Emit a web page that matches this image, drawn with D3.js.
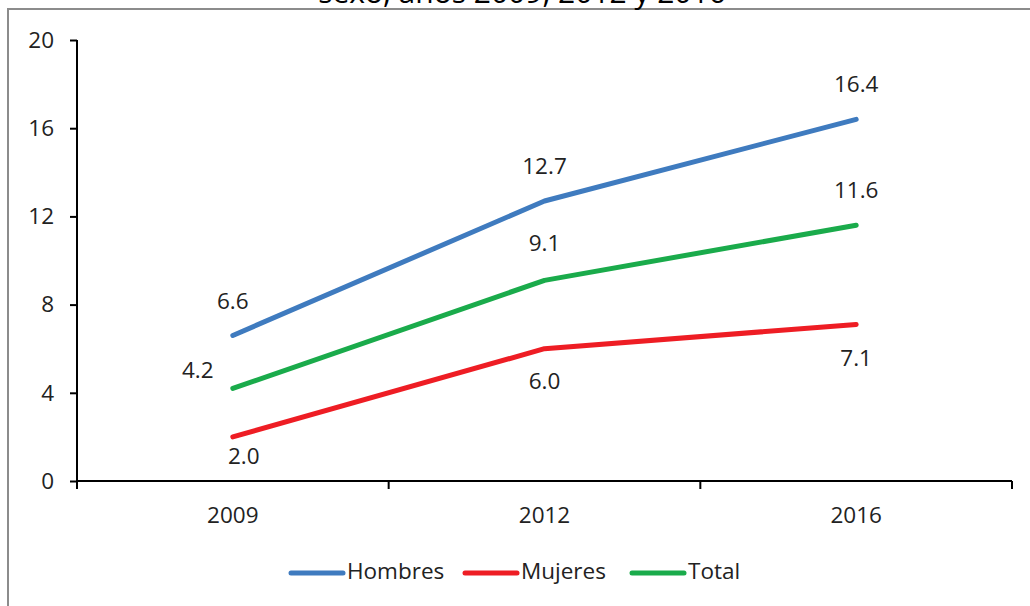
<!DOCTYPE html>
<html><head><meta charset="utf-8">
<script src="https://cdn.jsdelivr.net/npm/d3@7"></script>
<style>
html,body{margin:0;padding:0;background:#fff;}
svg{display:block;font-family:"Open Sans","Noto Sans",sans-serif;}
</style></head>
<body>
<svg id="c" width="1030" height="606"></svg>
<script>
const years = ["2009","2012","2016"];
const hombres = [6.6, 12.7, 16.4];
const mujeres = [2.0, 6.0, 7.1];
const total = [4.2, 9.1, 11.6];
const yTicks = [0, 4, 8, 12, 16, 20];
const titleText = "sexo, años 2009, 2012 y 2016";

const series = [
  {name:"Hombres", values:hombres, color:"#3f7bbf", lab:[{dx:0,dy:-32},{dx:0,dy:-33},{dx:0,dy:-33}]},
  {name:"Mujeres", values:mujeres, color:"#ee1d24", lab:[{dx:11,dy:21},{dx:0,dy:34},{dx:0,dy:36}]},
  {name:"Total", values:total, color:"#1aab4b", lab:[{dx:-35,dy:-16},{dx:0,dy:-35},{dx:0,dy:-33}]}
];

const svg = d3.select("#c");
const L = 77, R = 1012, T = 40, B = 481;
const FS = 22.5;

// frame
svg.append("rect").attr("x",8).attr("y",9).attr("width",1040).attr("height",620)
  .attr("fill","none").attr("stroke","#8c8c8c").attr("stroke-width",2);

// title (clipped at top)
svg.append("text").attr("x",522).attr("y",3).attr("text-anchor","middle")
  .attr("font-size",30).attr("fill","#000").text(titleText);

const band = d3.scaleBand().domain(years).range([L,R]);
const x = d => band(d) + band.bandwidth()/2;
const y = d3.scaleLinear().domain([0,20]).range([B,T]);

// y axis
const yAxis = d3.axisLeft(y).tickValues(yTicks).tickSize(7).tickPadding(16).tickFormat(d3.format("d"));
const gy = svg.append("g").attr("transform",`translate(${L},0)`).call(yAxis);
gy.select(".domain").attr("stroke","#000").attr("stroke-width",2).attr("d",`M0,${T}V${B+7}`);
gy.selectAll(".tick line").attr("stroke","#000").attr("stroke-width",2);
gy.selectAll(".tick text").attr("font-size",FS).attr("fill","#222").attr("font-family","Open Sans, sans-serif");

// x axis
svg.append("line").attr("x1",L).attr("x2",R).attr("y1",B).attr("y2",B).attr("stroke","#000").attr("stroke-width",2);
const bounds = years.map(d=>band(d)).concat([R]);
svg.selectAll(".xt").data(bounds).enter().append("line")
  .attr("x1",d=>d).attr("x2",d=>d).attr("y1",B).attr("y2",B+8)
  .attr("stroke","#000").attr("stroke-width",2);
svg.selectAll(".xl").data(years).enter().append("text")
  .attr("x",d=>x(d)).attr("y",B+36).attr("text-anchor","middle").attr("dominant-baseline","middle")
  .attr("font-size",FS).attr("fill","#222").text(d=>d);

// lines
const line = d3.line().x((v,i)=>x(years[i])).y(v=>y(v));
series.forEach(s=>{
  svg.append("path").attr("d",line(s.values)).attr("fill","none")
    .attr("stroke",s.color).attr("stroke-width",5).attr("stroke-linecap","round").attr("stroke-linejoin","round");
  s.values.forEach((v,i)=>{
    svg.append("text").attr("x",x(years[i])+s.lab[i].dx).attr("y",y(v)+s.lab[i].dy)
      .attr("text-anchor","middle").attr("dominant-baseline","middle")
      .attr("font-size",FS).attr("fill","#222").text(v.toFixed(1));
  });
});

// legend
const legX = [291, 465, 632];
series.forEach((s,i)=>{
  const g = svg.append("g").attr("transform",`translate(${legX[i]},573)`);
  g.append("line").attr("x1",0).attr("x2",52).attr("y1",0).attr("y2",0)
    .attr("stroke",s.color).attr("stroke-width",5).attr("stroke-linecap","round");
  g.append("text").attr("x",56).attr("y",0).attr("dominant-baseline","middle")
    .attr("font-size",FS).attr("fill","#222").text(s.name);
});
</script>
</body></html>
